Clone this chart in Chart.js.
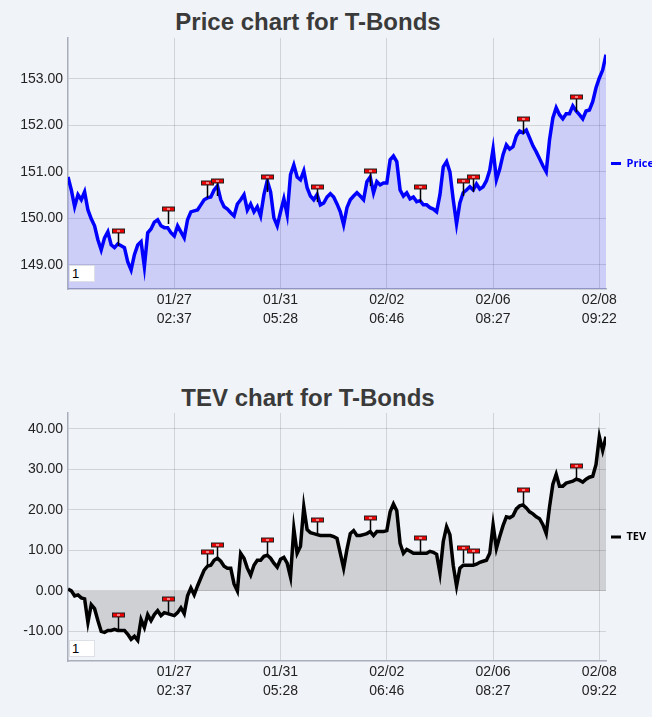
<!DOCTYPE html>
<html>
<head>
<meta charset="utf-8">
<script src="https://cdn.jsdelivr.net/npm/chart.js@4.4.1/dist/chart.umd.min.js"></script>
<style>
  body { margin: 0; background: #f0f3f7; width: 652px; height: 717px; overflow: hidden; position: relative; }
  .wrap { position: absolute; left: 0; width: 652px; }
  .title { position: absolute; left: 0; width: 616px; text-align: center; font: bold 24px "Liberation Sans", Arial, sans-serif; line-height: 24px; color: #3a3a3a; }
  .pager { position: absolute; left: 69px; width: 26px; height: 17px; background: #fff; border: 1px solid #dde0e6; font: 13px "Liberation Sans", Arial, sans-serif; color: #000; line-height: 16px; padding-left: 2px; box-sizing: border-box; }
</style>
</head>
<body>
<div class="title" style="top:10px">Price chart for T-Bonds</div>
<div class="wrap" style="top:0; height:345px"><canvas id="priceChart" width="652" height="345"></canvas></div>
<div class="title" style="top:386px">TEV chart for T-Bonds</div>
<div class="wrap" style="top:375px; height:342px"><canvas id="tevChart" width="652" height="342"></canvas></div>
<div class="pager" style="top:265px">1</div>
<div class="pager" style="top:640px">1</div>
<script>
// x ticks (bar index) and their date/time labels
const tickIdx = [32, 64, 96, 128, 160];
const tickLabels = [['01/27', '02:37'], ['01/31', '05:28'], ['02/02', '06:46'], ['02/06', '08:27'], ['02/08', '09:22']];

const priceTicks = [149, 150, 151, 152, 153];
const tevTicks = [-10, 0, 10, 20, 30, 40];

const price = [
  150.89, 150.61, 150.25, 150.51, 150.40, 150.57, 150.18, 149.99, 149.84, 149.54,
  149.32, 149.58, 149.71, 149.43, 149.37, 149.45, 149.41, 149.37, 149.06, 148.89,
  149.22, 149.43, 149.50, 148.96, 149.69, 149.77, 149.92, 149.97, 149.84, 149.80,
  149.80, 149.69, 149.62, 149.84, 149.71, 149.58, 149.97, 150.14, 150.16, 150.18,
  150.29, 150.40, 150.44, 150.46, 150.61, 150.70, 150.40, 150.25, 150.20, 150.12,
  150.05, 150.31, 150.40, 150.51, 150.18, 150.31, 150.14, 150.25, 150.05, 150.51,
  150.81, 150.57, 150.01, 149.84, 150.14, 150.42, 150.08, 150.94, 151.15, 150.89,
  150.83, 151.02, 150.66, 150.48, 150.40, 150.51, 150.29, 150.33, 150.46, 150.53,
  150.46, 150.31, 150.14, 149.86, 150.23, 150.40, 150.48, 150.55, 150.48, 150.40,
  150.79, 150.89, 150.55, 150.79, 150.72, 150.76, 150.76, 151.26, 151.34, 151.22,
  150.61, 150.48, 150.55, 150.42, 150.46, 150.36, 150.38, 150.29, 150.29, 150.23,
  150.20, 150.14, 150.51, 151.11, 151.22, 151.00, 150.40, 149.88, 150.33, 150.55,
  150.61, 150.68, 150.61, 150.74, 150.63, 150.68, 150.81, 151.04, 151.49, 150.83,
  151.06, 151.37, 151.58, 151.49, 151.54, 151.77, 151.88, 151.84, 151.90, 151.73,
  151.56, 151.43, 151.28, 151.13, 151.00, 151.69, 152.16, 152.38, 152.23, 152.14,
  152.25, 152.25, 152.42, 152.31, 152.23, 152.14, 152.31, 152.33, 152.51, 152.81,
  153.02, 153.19, 153.52
];

const tev = [
  0.49, 0, -1.22, -0.98, -1.71, -1.95, -7.80, -3.41, -4.39, -7.32,
  -10.00, -10.24, -9.76, -9.76, -9.51, -9.76, -9.76, -9.76, -10.73, -11.95,
  -11.22, -12.20, -7.07, -9.02, -5.85, -7.32, -5.85, -4.88, -6.10, -5.37,
  -5.61, -5.85, -6.10, -5.37, -4.15, -5.61, -1.22, 0.73, -0.98, 1.22,
  3.17, 5.12, 6.10, 6.34, 7.56, 8.05, 7.32, 6.10, 5.61, 5.61,
  1.71, 0, 9.27, 8.05, 5.61, 3.90, 6.34, 7.56, 7.56, 8.54,
  8.78, 8.05, 6.83, 5.85, 7.80, 8.29, 6.83, 3.41, 15.37, 9.27,
  10.98, 20.73, 15.12, 14.39, 14.15, 13.90, 13.66, 13.66, 13.66, 13.66,
  13.41, 12.93, 9.27, 5.61, 10.24, 14.15, 14.88, 13.66, 13.66, 13.90,
  14.15, 14.63, 13.66, 14.63, 14.63, 14.63, 14.88, 19.51, 21.46, 19.76,
  11.71, 9.27, 10.24, 9.76, 9.27, 9.27, 9.27, 9.27, 9.27, 9.76,
  9.51, 9.02, 4.39, 12.20, 15.85, 13.90, 6.34, 1.22, 5.61, 6.34,
  6.34, 6.34, 6.34, 6.59, 7.07, 7.32, 7.56, 9.27, 16.34, 10.49,
  13.41, 16.10, 18.29, 18.05, 18.54, 20.24, 20.98, 21.22, 20.49, 19.51,
  19.02, 18.29, 17.80, 16.34, 14.15, 20.73, 26.34, 28.78, 25.85, 25.85,
  26.59, 26.83, 27.07, 27.56, 27.32, 26.83, 27.56, 28.05, 28.29, 31.22,
  38.05, 34.63, 38.05
];

// trade markers: bar index and flag level on each chart
const markerIdx = [15, 30, 42, 45, 60, 75, 91, 106, 119, 122, 137, 153];
const priceFlags = [149.73, 150.20, 150.76, 150.81, 150.89, 150.68, 151.02, 150.68, 150.81, 150.89, 152.14, 152.61];
const tevFlags = [-5.85, -1.95, 9.51, 11.22, 12.44, 17.56, 18.05, 13.17, 10.49, 9.76, 24.88, 30.73];

const flagPlugin = {
  id: 'flags',
  afterDatasetsDraw(chart, args, opts) {
    const ctx = chart.ctx;
    const xs = chart.scales.x, ys = chart.scales.y;
    ctx.save();
    markerIdx.forEach((idx, i) => {
      const px = Math.round(xs.getPixelForValue(idx)) + 0.5;
      const py = Math.round(ys.getPixelForValue(opts.levels[i]));
      ctx.strokeStyle = '#000';
      ctx.lineWidth = 1.5;
      ctx.beginPath();
      ctx.moveTo(px, py + 2);
      ctx.lineTo(px, py + 15);
      ctx.stroke();
      ctx.fillStyle = '#222';
      ctx.fillRect(px - 6.5, py - 2.5, 13, 5);
      ctx.fillStyle = '#f00000';
      ctx.fillRect(px - 5.5, py - 1.5, 11, 3);
      ctx.fillStyle = '#fff';
      ctx.fillRect(px - 1.5, py - 0.5, 3, 1);
    });
    ctx.restore();
  }
};

Chart.defaults.font.family = '"Liberation Sans", Arial, sans-serif';
Chart.defaults.color = '#222';

function makeChart(id, label, values, lineColor, fillColor, fillTarget, yMin, yMax, yTicks, levels) {
  return new Chart(document.getElementById(id), {
    type: 'line',
    data: {
      datasets: [{
        label: label,
        data: values.map((v, i) => ({ x: i, y: v })),
        borderColor: lineColor,
        backgroundColor: fillColor,
        borderWidth: 3.5,
        pointRadius: 0,
        tension: 0,
        fill: fillTarget
      }]
    },
    options: {
      responsive: false,
      animation: false,
      devicePixelRatio: 1,
      layout: { padding: { top: 38, left: 0, right: 0, bottom: 0 } },
      plugins: {
        title: { display: false },
        tooltip: { enabled: false },
        flags: { levels: levels },
        legend: {
          position: 'right',
          fullSize: false,
          maxWidth: 46,
          labels: {
            boxWidth: 10,
            boxHeight: 3,
            padding: 5,
            color: lineColor,
            font: { size: 11, weight: 'bold', family: '"Open Sans", sans-serif' },
            generateLabels: (chart) => [{
              text: label, fillStyle: lineColor, strokeStyle: lineColor, lineWidth: 0,
              fontColor: lineColor, datasetIndex: 0
            }]
          }
        }
      },
      scales: {
        x: {
          type: 'linear',
          min: 0,
          max: values.length - 1,
          afterBuildTicks: (axis) => { axis.ticks = tickIdx.map(v => ({ value: v })); },
          afterFit: (axis) => { axis.height = 56; },
          ticks: {
            padding: 2,
            maxRotation: 0,
            autoSkip: false,
            font: { size: 14, lineHeight: 1.35 },
            callback: (v) => tickLabels[tickIdx.indexOf(v)]
          },
          grid: { color: 'rgba(0,0,0,0.13)', drawTicks: false },
          border: { color: '#a9aebb', width: 1.5 }
        },
        y: {
          min: yMin,
          max: yMax,
          afterBuildTicks: (axis) => { axis.ticks = yTicks.map(v => ({ value: v })); },
          afterFit: (axis) => { axis.width = 68; },
          ticks: {
            padding: 5,
            font: { size: 14 },
            callback: (v) => v.toFixed(2)
          },
          grid: { color: 'rgba(0,0,0,0.13)', drawTicks: false },
          border: { color: '#a9aebb', width: 1.5 }
        }
      }
    },
    plugins: [flagPlugin]
  });
}

makeChart('priceChart', 'Price', price, '#0000ff', 'rgba(0,0,255,0.15)', 'start', 148.48, 153.88, priceTicks, priceFlags);
makeChart('tevChart', 'TEV', tev, '#000000', 'rgba(0,0,0,0.14)', 'origin', -17.3, 43.9, tevTicks, tevFlags);
</script>
</body>
</html>
